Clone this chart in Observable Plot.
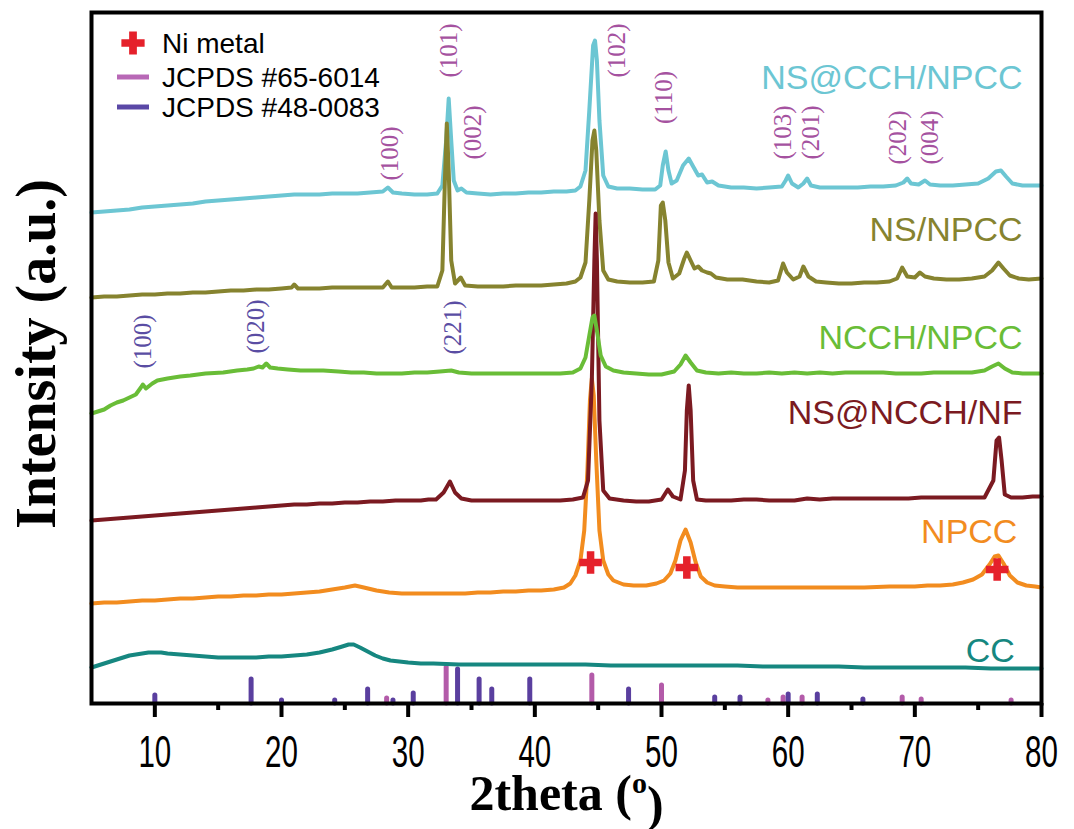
<!DOCTYPE html>
<html><head><meta charset="utf-8">
<script src="https://cdn.jsdelivr.net/npm/d3@7"></script>
<script src="https://cdn.jsdelivr.net/npm/@observablehq/plot@0.6"></script>
<style>body{margin:0;background:#fff}#chart{width:1074px;height:829px}</style>
</head><body><div id="chart"></div>
<script>
// 2theta (deg) and intensity (a.u., stacked offsets)
const nsCchNpcc = [[5,491],[6,492],[7,493],[8,494],[9,496],[10,497],[11,498],[12,499],[13,500],[14,502],[15,503],[16,504],[17,505],[18,506],[19,507],[20,508],[21,509],[22,509],[23,509],[24,510],[25,510],[26,510],[27,511],[28,512],[28.4,516],[28.8,511],[29.5,510],[30.5,509],[31.5,509],[32.3,510],[32.7,518],[33.0,563],[33.2,605],[33.4,563],[33.6,523],[33.9,513],[34.2,515],[34.6,511],[35.5,510],[36.5,509],[37.5,510],[38.5,510],[39.5,511],[40.5,511],[41.5,512],[42.5,512],[43.2,513],[43.6,517],[44.0,533],[44.3,593],[44.6,658],[44.75,663],[44.9,643],[45.1,583],[45.4,528],[45.8,517],[46.5,515],[47.5,515],[48.5,514],[49.5,514],[49.9,518],[50.1,538],[50.33,552],[50.55,533],[50.8,520],[51.2,523],[51.7,538],[52.15,545],[52.5,537],[52.9,528],[53.2,529],[53.6,521],[54,522],[54.5,518],[55.5,516],[56.5,516],[57.5,515],[58.5,516],[59.5,517],[59.8,523],[60.0,528],[60.3,520],[60.8,516],[61.2,520],[61.5,525],[61.8,518],[62.5,516],[63.5,516],[64.5,516],[65.5,516],[66.5,517],[67.5,517],[68.5,518],[69.1,521],[69.4,525],[69.7,520],[70.3,519],[70.8,523],[71.2,519],[72,518],[73,518],[74,519],[75,520],[75.8,525],[76.4,532],[76.8,533],[77.2,527],[77.7,520],[78.5,518],[79.3,518],[80,518]];
const nsNpcc = [[5,406],[6,407],[7,407],[8,408],[9,409],[10,409],[11,410],[12,410],[13,411],[14,411],[15,412],[16,413],[17,413],[18,414],[19,414],[20,415],[20.8,416],[21.0,419],[21.3,415],[22,415],[23,415],[24,416],[25,416],[26,416],[27,416],[28,416],[28.4,422],[28.7,416],[29.5,416],[30.5,416],[31.5,417],[32.3,417],[32.7,433],[32.9,523],[33.05,580],[33.2,533],[33.4,443],[33.7,420],[34.15,426],[34.5,418],[35.5,417],[36.5,417],[37.5,417],[38.5,418],[39.5,418],[40.5,418],[41.5,419],[42.5,420],[43.2,422],[43.6,426],[44.0,441],[44.3,503],[44.55,563],[44.7,573],[44.85,553],[45.1,483],[45.4,433],[45.8,424],[46.5,422],[47.5,421],[48.5,421],[49.4,422],[49.75,443],[49.95,498],[50.1,501],[50.3,483],[50.55,441],[50.9,425],[51.4,430],[51.8,445],[52.0,451],[52.3,443],[52.6,435],[52.9,437],[53.2,433],[53.6,431],[53.9,430],[54.3,426],[55.2,424],[56.4,424],[57.5,422],[58.5,421],[59.2,423],[59.6,440],[59.9,431],[60.4,424],[60.9,427],[61.2,437],[61.6,427],[62.2,422],[63,421],[64,420],[65,420],[66,421],[67,421],[68,422],[68.6,425],[69.0,436],[69.4,427],[70.0,426],[70.4,431],[70.8,427],[71.5,425],[72.5,424],[73.5,424],[74.5,425],[75.5,427],[76.1,433],[76.6,441],[77.0,435],[77.5,428],[78.2,425],[79,424],[80,425]];
const ncchNpcc = [[5,290],[5.5,292],[6,294],[6.5,298],[7,301],[7.5,303],[8,306],[8.5,309],[8.9,316],[9.05,319],[9.3,315],[9.8,320],[10.2,323],[11,325],[12,327],[12.8,328],[14,330],[15.4,331],[16.5,333],[17.3,334],[17.8,335],[18.2,337],[18.5,336],[18.8,340],[19.1,336],[19.7,335],[20.5,334],[21.5,333],[22.5,333],[23.3,333],[24.5,332],[25.5,331],[26.5,331],[27.5,330],[28.6,330],[29.5,330],[30.5,331],[31.5,331],[32.5,332],[33.4,333],[34,331],[35,330],[36,330],[37,330],[38,330],[39,330],[40,330],[41,330],[42,330],[43,331],[43.6,335],[44.0,346],[44.3,368],[44.55,386],[44.7,388],[44.9,373],[45.2,348],[45.6,337],[46.2,333],[47,331],[48,330],[49,329],[50,329],[51,332],[51.5,339],[51.9,348],[52.3,341],[52.8,333],[53.5,331],[54.5,330],[55.5,331],[56.5,330],[57.5,330],[58.5,331],[59.5,330],[60.5,331],[61.5,330],[62.5,331],[63.5,330],[64.5,331],[65.5,331],[66.5,331],[67.5,331],[68.5,330],[69.5,330],[70.5,330],[71.5,331],[72.5,331],[73.5,331],[74.5,331],[75.5,333],[76.1,337],[76.6,340],[77.1,335],[77.7,331],[78.5,330],[79.3,330],[80,330]];
const nsNcchNf = [[5,183],[6,184],[7,185],[8,186],[9,187],[10,188],[11,189],[12,190],[13,191],[14,192],[15,193],[16,194],[17,195],[18,196],[19,197],[20,198],[21,199],[22,199],[23,200],[24,200],[25,201],[26,201],[27,202],[28,202],[29,203],[30,203],[31,203],[31.6,204],[32.2,204],[32.8,211],[33.3,222],[33.7,211],[34.2,205],[35,203],[36,203],[37,203],[38,203],[39,203],[40,203],[41,203],[42,203],[43,204],[43.8,206],[44.2,223],[44.5,323],[44.7,443],[44.8,490],[44.9,443],[45.1,283],[45.4,213],[45.9,205],[47,203],[48,202],[49,202],[50,204],[50.5,214],[50.9,207],[51.5,204],[51.85,233],[52.0,293],[52.15,318],[52.3,293],[52.5,223],[52.8,204],[53.5,203],[54.5,203],[55.5,203],[56.5,204],[57.5,204],[58.5,203],[59.5,203],[60.5,203],[61.5,205],[62.5,204],[63.5,205],[64.5,205],[65.5,205],[66.5,205],[67.5,205],[68.5,205],[69.5,205],[70.5,206],[71.5,206],[72.5,206],[73.5,206],[74.5,206],[75.5,206],[76.2,223],[76.45,263],[76.65,266],[76.85,243],[77.1,209],[77.6,206],[78.5,206],[79.3,207],[80,207]];
const npcc = [[5,100],[6,101],[7,101],[8,102],[9,103],[10,103],[11,104],[12,105],[13,105],[14,106],[15,107],[16,107],[17,108],[18,108],[19,109],[20,109],[21,110],[22,111],[23,112],[24,114],[25,116],[25.8,118],[26.5,116],[27.5,113],[28.5,111],[29.5,110],[30.5,110],[31.5,110],[32.5,110],[33.5,110],[34.5,110],[35.5,111],[36.5,111],[37.5,112],[38.5,112],[39.5,113],[40.5,113],[41.5,114],[42.3,116],[42.8,120],[43.2,128],[43.6,143],[43.9,173],[44.15,233],[44.35,303],[44.5,325],[44.65,308],[44.85,243],[45.1,173],[45.4,143],[45.8,129],[46.2,123],[47,119],[47.8,118],[48.8,118],[49.6,120],[50.2,123],[50.7,130],[51.1,143],[51.5,163],[51.9,174],[52.3,161],[52.7,141],[53.1,127],[53.6,121],[54.2,118],[55,117],[56,116],[58,116],[60,116],[62,116],[64,116],[66,116],[68,117],[70,117],[71,118],[72,118],[73,119],[73.8,121],[74.6,124],[75.3,129],[75.9,139],[76.3,147],[76.6,148],[77.0,140],[77.5,128],[78.1,121],[78.8,118],[79.5,117],[80,116]];
const cc = [[5,36],[5.5,38],[6,40],[6.5,42],[7,44],[7.5,46],[8,48],[8.5,49],[9,50],[9.5,51],[10,51],[10.5,51],[11,50],[12,49],[13,48],[14,47],[15,46],[16,46],[17,46],[18,46],[19,47],[20,47],[21,48],[22,49],[23,51],[24,54],[24.8,57],[25.3,59],[25.7,59],[26.2,56],[26.8,52],[27.4,48],[28,45],[28.6,43],[29.3,42],[30,41],[31,40],[32,40],[34,39],[38,39],[44,39],[46,38],[56,38],[58,37],[64,37],[66,36],[74,36],[76,35],[80,35]];

const seriesNames  = ["NS@CCH/NPCC","NS/NPCC","NPCC","NS@NCCH/NF","NCCH/NPCC","CC"];
const seriesData   = [nsCchNpcc, nsNpcc, npcc, nsNcchNf, ncchNpcc, cc];
const seriesColors = ["#6cc6d3","#86832f","#f28c1f","#7b1a21","#69bd37","#168780"];
const labelX = [78.5, 78.5, 78.1, 78.5, 78.5, 77.9];
const labelY = [615, 463, 161, 280, 355, 42];

// reference patterns (2theta, relative intensity)
const jcpds65 = [[28.3,5],[33.0,36],[44.5,28],[50.0,18],[58.4,3],[59.6,6],[61.1,6],[69.0,6],[70.5,4],[77.6,3]];
const jcpds48 = [[10.0,8],[17.6,24],[20.0,3],[24.2,3],[26.8,14],[28.8,3],[30.4,10],[33.9,34],[35.6,24],[36.6,14],[39.6,24],[47.4,14],[54.2,6],[56.2,6],[60.0,9],[62.3,9],[65.9,4]];

// Ni metal markers on NPCC
const niX = [44.4, 52.0, 76.5];
const niY = [141, 136, 134];

// Miller index annotations
const millerPink = [["(100)",28.6,550],["(101)",33.2,653],["(002)",35.1,571],["(102)",46.5,653],["(110)",50.2,606],["(103)",59.6,571],["(201)",61.8,571],["(202)",68.7,566],["(004)",71.2,566]];
const millerPurple = [["(100)",9.1,362],["(020)",18.0,377],["(221)",33.5,376]];

const majorTicks = [10,20,30,40,50,60,70,80];
const minorTicks = [15,25,35,45,55,65,75];

const legendLabels = ["Ni metal","JCPDS #65-6014","JCPDS #48-0083"];
const legendColors = ["#e5212b","#b868b6","#5a48a6"];

const pink = "#b35ba9", purple = "#5a3f9f";

const toRows = (arr) => arr.map(([x,y]) => ({x, y}));
const lineMarks = seriesData.map((d,i) => Plot.line(toRows(d), {x:"x", y:"y", stroke: seriesColors[i], strokeWidth: 4, strokeLinejoin:"round", strokeLinecap:"round"}));
const labelRows = seriesNames.map((n,i) => ({n, x: labelX[i], y: labelY[i], c: seriesColors[i]}));

const serif = "'Liberation Serif','Times New Roman',Times,serif";
const sans = "'Liberation Sans',Arial,Helvetica,sans-serif";

const chart = Plot.plot({
  width: 1074, height: 829,
  marginLeft: 91, marginRight: 33, marginTop: 12, marginBottom: 126,
  x: {domain: [5, 80]},
  y: {domain: [0, 691], axis: null},
  style: {background: "#fff", overflow: "visible"},
  marks: [
    Plot.ruleX(toRows(jcpds65), {x:"x", y1: 0, y2:"y", stroke: pink, strokeWidth: 5, strokeLinecap:"round"}),
    Plot.ruleX(toRows(jcpds48), {x:"x", y1: 0, y2:"y", stroke: purple, strokeWidth: 5, strokeLinecap:"round"}),
    ...lineMarks,
    Plot.dot(niX.map((x,i)=>({x, y: niY[i]})), {x:"x", y:"y", symbol:"cross", r: 9.5, fill:"#e5212b", stroke:"none"}),
    Plot.text(millerPink.map(([t,x,y])=>({t,x,y})), {x:"x", y:"y", text:"t", rotate:-90, fill:"#a552a0", fontSize: 25, fontFamily: serif}),
    Plot.text(millerPurple.map(([t,x,y])=>({t,x,y})), {x:"x", y:"y", text:"t", rotate:-90, fill:"#5a4da3", fontSize: 25, fontFamily: serif}),
    Plot.text(labelRows, {x:"x", y:"y", text:"n", fill:"c", textAnchor:"end", lineAnchor:"bottom", fontSize: 34, fontFamily: sans}),
    Plot.axisX({ticks: minorTicks, tickSize: 7, strokeWidth: 4, text: null, label: null}),
    Plot.axisX({ticks: majorTicks, tickSize: 14, tickPadding: 18, strokeWidth: 4, fontSize: 36, fontFamily: sans, fill: "#000", label: null}),
    Plot.text(["2theta (o)"], {frameAnchor:"bottom", dy: 106, textAnchor:"middle", lineAnchor:"bottom", fontSize: 50, fontWeight:"bold", fontFamily: serif, fill:"#000"}),
    Plot.text(["Intensity (a.u.)"], {frameAnchor:"left", dx: -54, dy: -4, textAnchor:"middle", rotate: -90, fontSize: 56, fontWeight:"bold", fontFamily: serif, fill:"#000"}),
    Plot.frame({stroke:"#000", strokeWidth: 4})
  ]
});

document.getElementById("chart").appendChild(chart);
const svg = d3.select(chart);
// condensed tick label digits like the original
svg.selectAll("text").filter(function(){ return /^\d0$/.test(this.textContent) && this.getAttribute("transform"); }).each(function(){
  const tr = this.getAttribute("transform");
  this.setAttribute("transform", tr + " scale(0.82,1.22)");
});
svg.selectAll("text").filter(function(){ return this.textContent === "2theta (o)"; }).each(function(){
  const t = d3.select(this);
  t.text("2theta (");
  t.append("tspan").attr("dy","-0.55em").attr("font-size","60%").text("o");
  t.append("tspan").attr("dy","0.55em").text(")");
});

// legend
const leg = svg.append("g").attr("font-family", sans).attr("font-size", 28).attr("text-anchor","start");
const legY = [43, 77, 107];
legendLabels.forEach((label, i) => {
  if (i === 0) {
    leg.append("path").attr("d", d3.symbol(d3.symbolCross, 300)()).attr("transform", `translate(133,${legY[i]})`).attr("fill", legendColors[i]);
  } else {
    leg.append("line").attr("x1",117).attr("x2",149).attr("y1",legY[i]).attr("y2",legY[i]).attr("stroke",legendColors[i]).attr("stroke-width",5);
  }
  leg.append("text").attr("x",162).attr("y",legY[i]).attr("dy","0.36em").attr("fill","#000").text(label);
});
</script>
</body></html>
